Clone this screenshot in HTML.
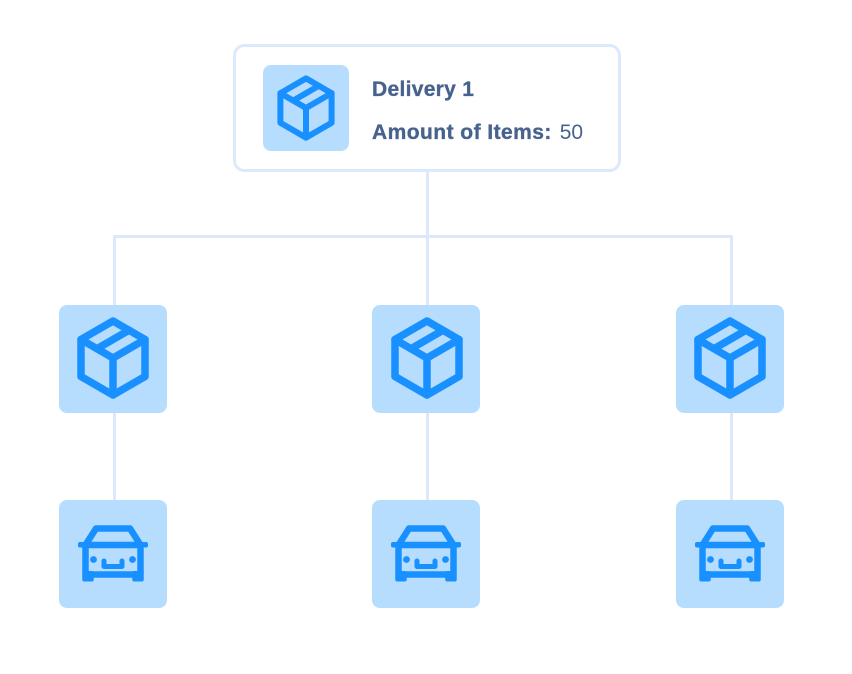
<!DOCTYPE html>
<html>
<head>
<meta charset="utf-8">
<style>
  html, body { margin: 0; padding: 0; background: #ffffff; }
  body { width: 852px; height: 674px; overflow: hidden; }
  svg { display: block; }
  .t { font-family: "Liberation Sans", "DejaVu Sans", sans-serif; font-size: 21px; fill: #48628e; }
</style>
</head>
<body>
<svg width="852" height="674" viewBox="0 0 852 674" xmlns="http://www.w3.org/2000/svg">
  <!-- connectors -->
  <g fill="#dce9fc">
    <rect x="426" y="171" width="3" height="67"/>
    <rect x="113" y="235" width="620" height="3"/>
    <rect x="113" y="235" width="3" height="72"/>
    <rect x="426" y="235" width="3" height="72"/>
    <rect x="730" y="235" width="3" height="72"/>
    <rect x="113" y="411" width="3" height="91"/>
    <rect x="426" y="411" width="3" height="91"/>
    <rect x="730" y="411" width="3" height="91"/>
  </g>

  <!-- main card -->
  <rect x="234.5" y="45.5" width="385" height="125" rx="10" ry="10" fill="#ffffff" stroke="#dce9fc" stroke-width="3"/>
  <rect x="263" y="65" width="86" height="86" rx="8" ry="8" fill="#b6dcfe"/>
  <g transform="translate(306,108) scale(0.8)" fill="none" stroke="#1890ff" stroke-width="7.5" stroke-linejoin="round" stroke-linecap="round">
    <path d="M0 -37 L32 -18.5 L32 18.5 L0 37 L-32 18.5 L-32 -18.5 Z"/>
    <path d="M-32 -18.5 L0 0 L32 -18.5 M0 0 L0 37"/>
    <path d="M16 -27.75 L-16 -9.25"/>
  </g>
  <text class="t" x="372" y="96" font-weight="bold" letter-spacing="0.3" stroke="#48628e" stroke-width="0.35">Delivery 1</text>
  <text class="t" x="372" y="139"><tspan font-weight="bold" letter-spacing="0.45" stroke="#48628e" stroke-width="0.35">Amount of Items:</tspan><tspan dx="2"> 50</tspan></text>

  <!-- nodes -->
  <g fill="#b6dcfe">
    <rect x="59" y="305" width="108" height="108" rx="8" ry="8"/>
    <rect x="372" y="305" width="108" height="108" rx="8" ry="8"/>
    <rect x="676" y="305" width="108" height="108" rx="8" ry="8"/>
    <rect x="59" y="500" width="108" height="108" rx="8" ry="8"/>
    <rect x="372" y="500" width="108" height="108" rx="8" ry="8"/>
    <rect x="676" y="500" width="108" height="108" rx="8" ry="8"/>
  </g>

  <!-- box icons -->
  <g fill="none" stroke="#1890ff" stroke-width="7.5" stroke-linejoin="round" stroke-linecap="round">
    <g transform="translate(113,358)">
      <path d="M0 -37 L32 -18.5 L32 18.5 L0 37 L-32 18.5 L-32 -18.5 Z"/>
      <path d="M-32 -18.5 L0 0 L32 -18.5 M0 0 L0 37"/>
      <path d="M16 -27.75 L-16 -9.25"/>
    </g>
    <g transform="translate(427,358)">
      <path d="M0 -37 L32 -18.5 L32 18.5 L0 37 L-32 18.5 L-32 -18.5 Z"/>
      <path d="M-32 -18.5 L0 0 L32 -18.5 M0 0 L0 37"/>
      <path d="M16 -27.75 L-16 -9.25"/>
    </g>
    <g transform="translate(730,358)">
      <path d="M0 -37 L32 -18.5 L32 18.5 L0 37 L-32 18.5 L-32 -18.5 Z"/>
      <path d="M-32 -18.5 L0 0 L32 -18.5 M0 0 L0 37"/>
      <path d="M16 -27.75 L-16 -9.25"/>
    </g>
  </g>

  <!-- car icons -->
  <g>
    <g transform="translate(113,554)">
      <g fill="none" stroke="#1890ff" stroke-width="6.5" stroke-linejoin="round" stroke-linecap="round">
        <path d="M-27.5 -9 L-17 -25.5 L17 -25.5 L27.5 -9"/>
        <rect x="-27.5" y="-9" width="55" height="29.5" rx="2.5"/>
        <path d="M-9 7 V12.5 H9 V7" stroke-width="5"/>
      </g>
      <g fill="#1890ff">
        <rect x="-30.75" y="17" width="11.5" height="10.5" rx="2"/>
        <rect x="19.25" y="17" width="11.5" height="10.5" rx="2"/>
        <rect x="-35" y="-12" width="8" height="5.5" rx="2"/>
        <rect x="27" y="-12" width="8" height="5.5" rx="2"/>
        <circle cx="-19.5" cy="5.5" r="3.4"/>
        <circle cx="19.5" cy="5.5" r="3.4"/>
      </g>
    </g>
    <g transform="translate(426,554)">
      <g fill="none" stroke="#1890ff" stroke-width="6.5" stroke-linejoin="round" stroke-linecap="round">
        <path d="M-27.5 -9 L-17 -25.5 L17 -25.5 L27.5 -9"/>
        <rect x="-27.5" y="-9" width="55" height="29.5" rx="2.5"/>
        <path d="M-9 7 V12.5 H9 V7" stroke-width="5"/>
      </g>
      <g fill="#1890ff">
        <rect x="-30.75" y="17" width="11.5" height="10.5" rx="2"/>
        <rect x="19.25" y="17" width="11.5" height="10.5" rx="2"/>
        <rect x="-35" y="-12" width="8" height="5.5" rx="2"/>
        <rect x="27" y="-12" width="8" height="5.5" rx="2"/>
        <circle cx="-19.5" cy="5.5" r="3.4"/>
        <circle cx="19.5" cy="5.5" r="3.4"/>
      </g>
    </g>
    <g transform="translate(730,554)">
      <g fill="none" stroke="#1890ff" stroke-width="6.5" stroke-linejoin="round" stroke-linecap="round">
        <path d="M-27.5 -9 L-17 -25.5 L17 -25.5 L27.5 -9"/>
        <rect x="-27.5" y="-9" width="55" height="29.5" rx="2.5"/>
        <path d="M-9 7 V12.5 H9 V7" stroke-width="5"/>
      </g>
      <g fill="#1890ff">
        <rect x="-30.75" y="17" width="11.5" height="10.5" rx="2"/>
        <rect x="19.25" y="17" width="11.5" height="10.5" rx="2"/>
        <rect x="-35" y="-12" width="8" height="5.5" rx="2"/>
        <rect x="27" y="-12" width="8" height="5.5" rx="2"/>
        <circle cx="-19.5" cy="5.5" r="3.4"/>
        <circle cx="19.5" cy="5.5" r="3.4"/>
      </g>
    </g>
  </g>
</svg>
</body>
</html>
